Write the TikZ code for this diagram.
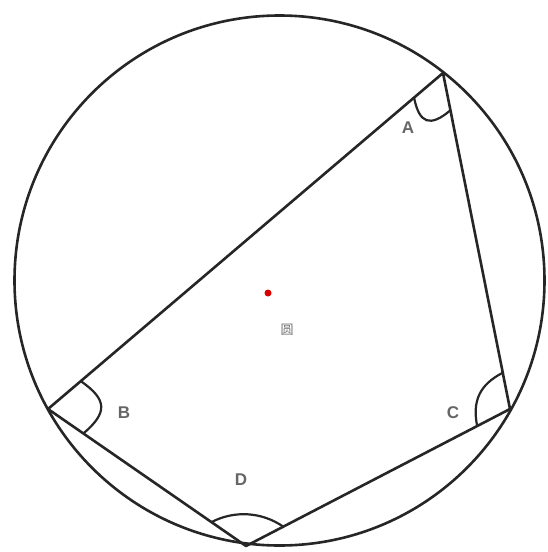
\documentclass[tikz,border=0pt]{standalone}
\usepackage{fontspec}
\setmainfont{Liberation Sans}
\newfontfamily\cjk{Noto Sans CJK SC}
\usetikzlibrary{calc}
\begin{document}
\begin{tikzpicture}[x=1pt,y=-1pt,
  edge/.style={line width=2.6pt,black!85},
  anglemk/.style={line width=2.2pt,black!85},
  lbl/.style={font=\fontsize{17}{17}\selectfont\bfseries,text=black!60}]
\useasboundingbox (0,0) rectangle (547,552);
\coordinate (O) at (279.5,280.5);
\draw[edge] (O) circle (265);
\coordinate (A) at (443,73);
\coordinate (B) at (48,409);
\coordinate (C) at (510,409);
\coordinate (D) at (246,546);
\draw[edge,line join=round] (A) -- (B) -- (D) -- (C) -- cycle;
% angle markers
\newcommand{\angmk}[5]{%
  \path ($(#1)!#4!(#2)$) coordinate (p1) ($(#1)!#4!(#3)$) coordinate (p2);
  \draw[anglemk] (p1) .. controls ($(p1)!#5!($(p1)+(p2)-(#1)$)$) and ($(p2)!#5!($(p1)+(p2)-(#1)$)$) .. (p2);}
\angmk{A}{B}{C}{38pt}{0.7}
\angmk{B}{A}{D}{43pt}{0.75}
\angmk{C}{A}{D}{37pt}{0.7}
\angmk{D}{B}{C}{42pt}{0.62}
\node[lbl] (la) at (408,128) {A};
\node[lbl] (lb) at (124,413) {B};
\node[lbl] (lc) at (453,413) {C};
\node[lbl] (ld) at (241,480) {D};
\fill[red!85!black] (268,293) circle (3.5) coordinate (dot);
\node[text=black!55,font=\cjk\fontsize{13}{13}\selectfont] (yuan) at (287,330) {圆};
\end{tikzpicture}
\end{document}
